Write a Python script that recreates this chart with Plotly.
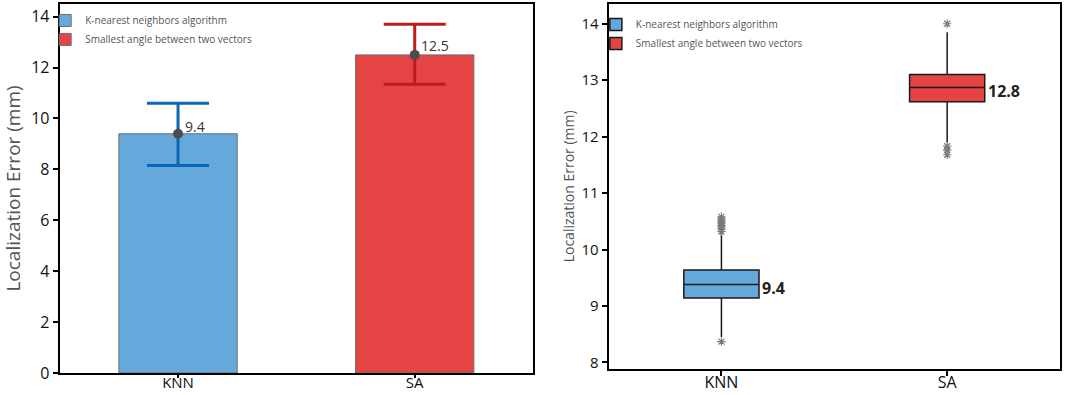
import plotly.graph_objects as go

# ---------------- data ----------------
categories = ["KNN", "SA"]
series_names = ["K-nearest neighbors algorithm", "Smallest angle between two vectors"]

# left panel: mean localization error with error bars
mean_error = [9.4, 12.5]
err_plus = [1.2, 1.2]
err_minus = [1.25, 1.15]
mean_labels = ["9.4", "12.5"]

# right panel: box statistics
box_q1 = [9.14, 12.62]
box_median = [9.38, 12.87]
box_q3 = [9.64, 13.10]
box_lowerfence = [8.45, 11.90]
box_upperfence = [10.30, 13.85]
box_labels = ["9.4", "12.8"]
outliers_knn = [10.32, 10.36, 10.40, 10.43, 10.47, 10.50, 10.54, 10.58, 8.37]
outliers_sa = [14.00, 11.83, 11.76, 11.68]

left_yticks = [0, 2, 4, 6, 8, 10, 12, 14]
right_yticks = [8, 9, 10, 11, 12, 13, 14]

# ---------------- style ----------------
bar_colors = ["#64a8dc", "#e44444"]
err_colors = ["#0b68b6", "#bf1b1b"]
FONT = "Open Sans"

fig = go.Figure()

# bars
for i, cat in enumerate(categories):
    fig.add_trace(go.Bar(
        x=[cat], y=[mean_error[i]], name=series_names[i],
        marker=dict(color=bar_colors[i], line=dict(color="#6e6e6e", width=1)),
        width=0.5, xaxis="x", yaxis="y", legend="legend",
    ))

# error bars + mean markers
for i, cat in enumerate(categories):
    fig.add_trace(go.Scatter(
        x=[cat], y=[mean_error[i]], mode="markers", showlegend=False,
        marker=dict(color="#4d4d4d", size=10),
        error_y=dict(type="data", symmetric=False, array=[err_plus[i]],
                     arrayminus=[err_minus[i]], color=err_colors[i],
                     thickness=3, width=31),
        xaxis="x", yaxis="y",
    ))

# boxes
for i, cat in enumerate(categories):
    fig.add_trace(go.Box(
        x=[cat], q1=[box_q1[i]], median=[box_median[i]], q3=[box_q3[i]],
        lowerfence=[box_lowerfence[i]], upperfence=[box_upperfence[i]],
        name=series_names[i], fillcolor=bar_colors[i],
        line=dict(color="#1a1a1a", width=1.5), whiskerwidth=0,
        width=0.333, boxpoints=False,
        xaxis="x2", yaxis="y2", legend="legend2",
    ))

# outliers
for cat, vals in zip(categories, [outliers_knn, outliers_sa]):
    fig.add_trace(go.Scatter(
        x=[cat] * len(vals), y=vals, mode="markers", showlegend=False,
        marker=dict(symbol="asterisk-open", size=7, color="#7a7a7a",
                    line=dict(color="#7a7a7a", width=1.2)),
        xaxis="x2", yaxis="y2",
    ))

annotations = []
shifts = [(5, 7), (4, 9)]
for i, cat in enumerate(categories):
    annotations.append(dict(
        x=cat, y=mean_error[i], xref="x", yref="y", text=mean_labels[i],
        showarrow=False, xanchor="left", yanchor="middle",
        xshift=shifts[i][0], yshift=shifts[i][1],
        font=dict(family=FONT, size=14, color="#333333"),
    ))
    annotations.append(dict(
        x=cat, y=box_median[i], xref="x2", yref="y2", text="<b>%s</b>" % box_labels[i],
        showarrow=False, xanchor="left", yanchor="middle",
        xshift=39, yshift=-3,
        font=dict(family=FONT, size=16, color="#222222"),
    ))

axis_common = dict(showline=True, linecolor="black", linewidth=2, mirror=True,
                   ticks="outside", tickwidth=1.5, tickcolor="black",
                   showgrid=False, zeroline=False)

fig.update_layout(
    width=1065, height=407,
    margin=dict(l=0, r=0, t=0, b=0),
    paper_bgcolor="white", plot_bgcolor="white",
    barmode="overlay", boxmode="overlay",
    font=dict(family=FONT, color="black"),
    xaxis=dict(domain=[0.0507, 0.4977], anchor="y", type="category",
               categoryorder="array", categoryarray=categories, range=[-0.5, 1.5],
               tickfont=dict(size=15, color="#111"), ticklen=3,
               ticklabelstandoff=-8, **axis_common),
    yaxis=dict(domain=[0.0582, 0.9899], anchor="x", range=[0, 14.5],
               tickvals=left_yticks, tickfont=dict(size=16, color="#111"), ticklen=5,
               title=dict(text="Localization Error (mm)", standoff=18,
                          font=dict(size=19, color="#555555")),
               **axis_common),
    xaxis2=dict(domain=[0.569, 0.9953], anchor="y2", type="category",
                categoryorder="array", categoryarray=categories, range=[-0.5, 1.5],
                tickfont=dict(size=16, color="#111"), ticklen=5,
                ticklabelstandoff=-7, **axis_common),
    yaxis2=dict(domain=[0.069, 0.9899], anchor="x2", range=[7.89, 14.35],
                tickvals=right_yticks, tickfont=dict(size=15, color="#111"), ticklen=5,
                title=dict(text="Localization Error (mm)", standoff=4,
                           font=dict(size=14, color="#555555")),
                **axis_common),
    legend=dict(x=0.037, y=0.985, xanchor="left", yanchor="top",
                bgcolor="rgba(0,0,0,0)", font=dict(size=10, color="#555555"),
                tracegroupgap=0, itemwidth=30),
    legend2=dict(x=0.557, y=0.975, xanchor="left", yanchor="top",
                 bgcolor="rgba(0,0,0,0)", font=dict(size=10, color="#555555"),
                 tracegroupgap=0, itemwidth=30),
    annotations=annotations,
)

fig.write_html("out.html", config={"displayModeBar": False},
               post_script="document.body.style.margin='0';document.body.style.overflow='hidden';")
